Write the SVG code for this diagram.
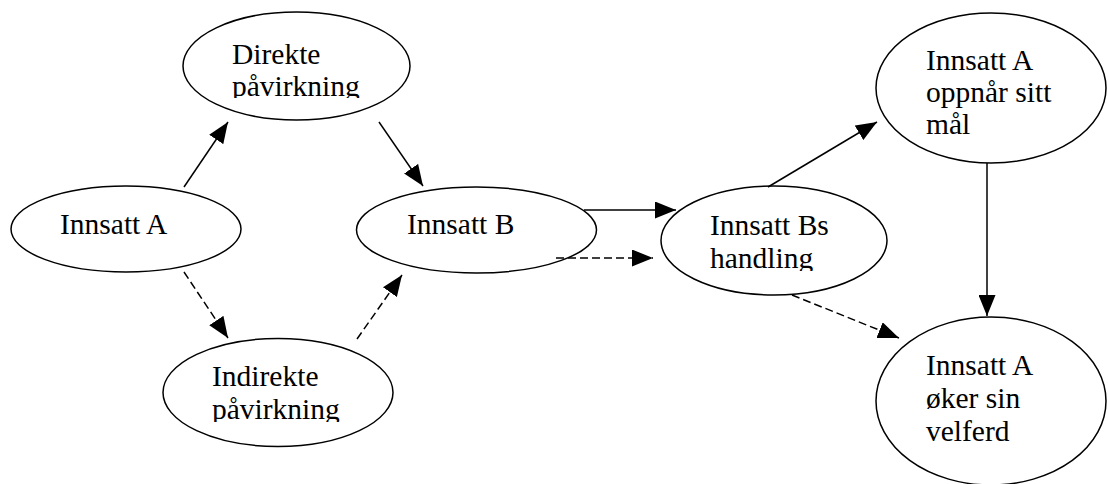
<svg xmlns="http://www.w3.org/2000/svg" width="1108" height="484" viewBox="0 0 1108 484">
<style>
.node ellipse{fill:#fff;stroke:#000;stroke-width:1.5}
.node text{font-family:"Liberation Serif","Times New Roman",serif;font-size:29.5px;fill:#000}
.edge{stroke:#000;stroke-width:1.5;fill:none;marker-end:url(#ah)}
.dash{stroke-dasharray:8,4}
</style>
<defs>
<marker id="ah" markerUnits="userSpaceOnUse" markerWidth="21" markerHeight="17" refX="21" refY="8.5" orient="auto">
<path d="M0,0 L21,8.5 L0,17 z" fill="#000"/>
</marker>
<clipPath id="c1"><rect x="180" y="0" width="240" height="98"/></clipPath>
<clipPath id="c2"><rect x="160" y="340" width="240" height="82"/></clipPath>
<clipPath id="c3"><rect x="660" y="180" width="230" height="91"/></clipPath>
</defs>
<rect width="1108" height="484" fill="#fff"/>
<g id="n-direkte" class="node">
<ellipse cx="296.5" cy="66" rx="113.5" ry="54"/>
<text clip-path="url(#c1)"><tspan x="232" y="64">Direkte</tspan><tspan x="232" y="96">påvirkning</tspan></text>
</g>
<g id="n-innsattA" class="node">
<ellipse cx="126" cy="229" rx="115" ry="43"/>
<text x="60" y="234">Innsatt A</text>
</g>
<g id="n-innsattB" class="node">
<ellipse cx="476.5" cy="230" rx="120" ry="43"/>
<text x="407" y="234">Innsatt B</text>
</g>
<g id="n-indirekte" class="node">
<ellipse cx="278" cy="392.5" rx="115" ry="54"/>
<text clip-path="url(#c2)"><tspan x="212" y="386">Indirekte</tspan><tspan x="212" y="419">påvirkning</tspan></text>
</g>
<g id="n-handling" class="node">
<ellipse cx="774" cy="240.5" rx="113" ry="54.5"/>
<text clip-path="url(#c3)"><tspan x="710" y="235">Innsatt Bs</tspan><tspan x="710" y="268">handling</tspan></text>
</g>
<g id="n-maal" class="node">
<ellipse cx="991" cy="88" rx="115" ry="75"/>
<text><tspan x="926" y="70">Innsatt A</tspan><tspan x="926" y="102">oppnår sitt</tspan><tspan x="926" y="134">mål</tspan></text>
</g>
<g id="n-velferd" class="node">
<ellipse cx="991" cy="401" rx="115" ry="84"/>
<text><tspan x="926" y="375">Innsatt A</tspan><tspan x="926" y="408">øker sin</tspan><tspan x="926" y="441">velferd</tspan></text>
</g>
<g id="connectors">
<line class="edge" x1="184" y1="187" x2="228" y2="122"/>
<line class="edge" x1="379" y1="122" x2="423" y2="186"/>
<line class="edge dash" x1="184" y1="272" x2="228" y2="338"/>
<line class="edge dash" x1="357" y1="339" x2="402" y2="275"/>
<line class="edge" x1="584" y1="210" x2="676" y2="210"/>
<line class="edge dash" x1="556" y1="258" x2="653" y2="258"/>
<line class="edge" x1="768" y1="187" x2="877" y2="122"/>
<line class="edge" x1="987" y1="163" x2="987" y2="316"/>
<line class="edge dash" x1="792" y1="295" x2="899" y2="338"/>
</g>
</svg>
